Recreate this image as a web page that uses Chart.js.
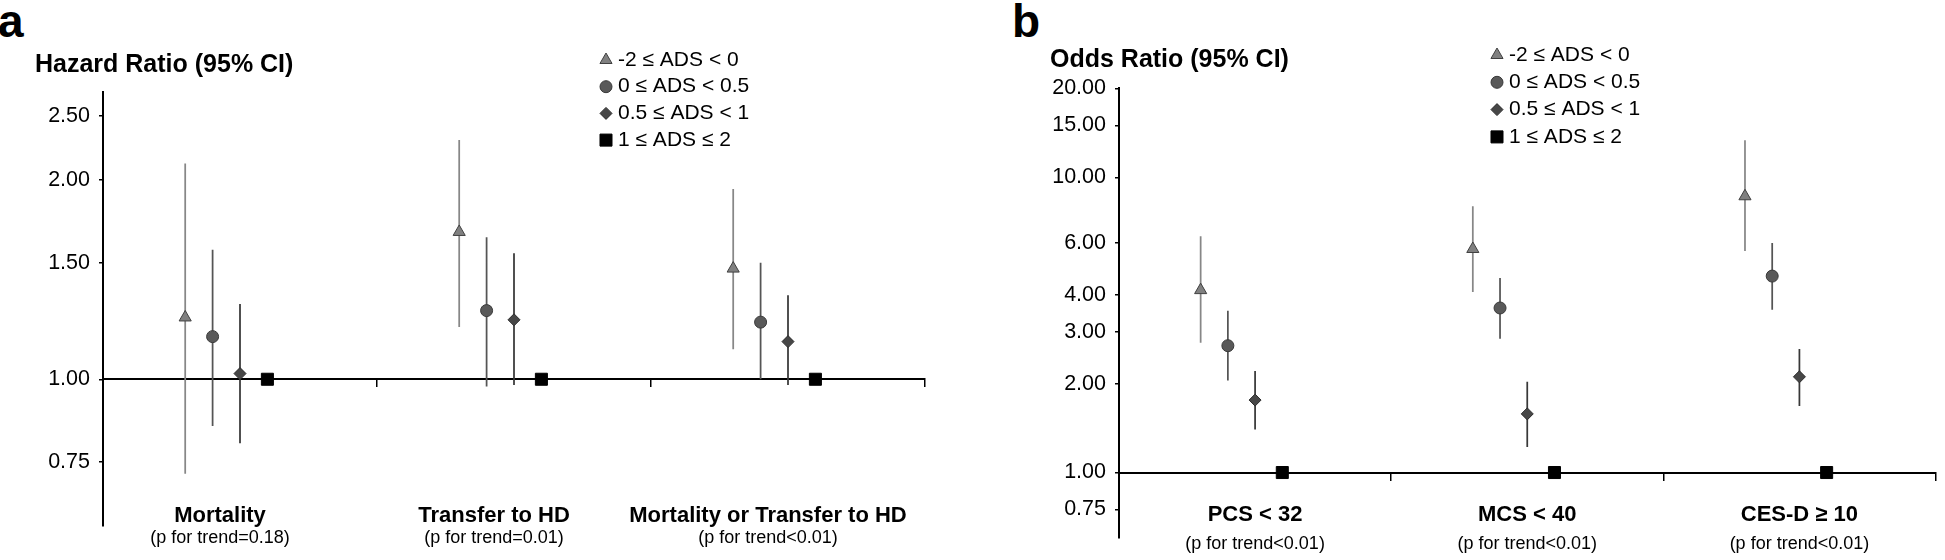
<!DOCTYPE html>
<html>
<head>
<meta charset="utf-8">
<script src="https://cdn.jsdelivr.net/npm/chart.js"></script>
<style>
  body { margin: 0; background: #fff; }
  #wrap { position: relative; width: 1945px; height: 560px; overflow: hidden; }
  .panel { position: absolute; top: 0; height: 560px; }
  .letter { position: absolute; top: -2px; font: bold 46px/46px "Liberation Sans", Arial, sans-serif; color: #000; }
</style>
</head>
<body>
<div id="wrap">
  <div class="letter" style="left:-2px">a</div>
  <div class="letter" style="left:1012px">b</div>
  <div class="panel" style="left:0;width:970px"><canvas id="hazardChart"></canvas></div>
  <div class="panel" style="left:1015px;width:930px"><canvas id="oddsChart"></canvas></div>
</div>
<script>
// ADS groups (legend)
var groups = ['-2 ≤ ADS < 0', '0 ≤ ADS < 0.5', '0.5 ≤ ADS < 1', '1 ≤ ADS ≤ 2'];

// Panel a - hazard ratios
var outcomesA = ['Mortality', 'Transfer to HD', 'Mortality or Transfer to HD'];
var trendA = ['(p for trend=0.18)', '(p for trend=0.01)', '(p for trend<0.01)'];
var ticksA = [0.75, 1, 1.5, 2, 2.5];
var hrEst = [[1.24, 1.67, 1.47], [1.16, 1.27, 1.22], [1.02, 1.23, 1.14], [1, 1, 1]];
var hrLow = [[0.72, 1.20, 1.11], [0.85, 0.975, 1.0], [0.80, 0.98, 0.98], null];
var hrHigh = [[2.12, 2.30, 1.94], [1.57, 1.64, 1.50], [1.30, 1.55, 1.34], null];

// Panel b - odds ratios
var outcomesB = ['PCS < 32', 'MCS < 40', 'CES-D ≥ 10'];
var trendB = ['(p for trend<0.01)', '(p for trend<0.01)', '(p for trend<0.01)'];
var ticksB = [0.75, 1, 2, 3, 4, 6, 10, 15, 20];
var orEst = [[4.15, 5.72, 8.63], [2.69, 3.61, 4.63], [1.76, 1.58, 2.11], [1, 1, 1]];
var orLow = [[2.75, 4.09, 5.63], [2.05, 2.84, 3.56], [1.40, 1.22, 1.68], null];
var orHigh = [[6.32, 7.99, 13.35], [3.53, 4.56, 5.99], [2.21, 2.03, 2.62], null];

var fontFamily = '"Liberation Sans", Arial, Helvetica, sans-serif';
Chart.defaults.font.family = fontFamily;
Chart.defaults.color = '#000';

// marker look per group, and where each group sits inside its category
var markerStyles = [
  { pointStyle: 'triangle', radius: 7, fill: '#808080', border: '#404040', ci: '#878787' },
  { pointStyle: 'circle', radius: 6, fill: '#595959', border: '#383838', ci: '#555555' },
  { pointStyle: 'rectRot', radius: 6, fill: '#474747', border: '#2b2b2b', ci: '#383838' },
  { pointStyle: 'rect', radius: 8.5, fill: '#000000', border: '#000000', ci: null }
];
var groupShift = [-0.2, -0.1, 0, 0.1];

function buildDatasets(est, low, high) {
  var sets = [];
  // confidence intervals as broken line segments
  low.forEach(function (lo, s) {
    if (!lo) return;
    var pts = [];
    lo.forEach(function (v, i) {
      var x = i + 0.5 + groupShift[s];
      pts.push({ x: x, y: v }, { x: x, y: high[s][i] }, { x: x, y: null });
    });
    sets.push({
      type: 'line', data: pts, xAxisID: 'x', yAxisID: 'y',
      borderColor: markerStyles[s].ci, borderWidth: 1.75,
      pointRadius: 0, spanGaps: false, fill: false, order: 1
    });
  });
  est.forEach(function (vals, s) {
    var st = markerStyles[s];
    sets.push({
      type: 'scatter', label: groups[s], xAxisID: 'x', yAxisID: 'y',
      data: vals.map(function (v, i) { return { x: i + 0.5 + groupShift[s], y: v }; }),
      pointStyle: st.pointStyle, pointRadius: st.radius,
      backgroundColor: st.fill, pointBackgroundColor: st.fill,
      borderColor: st.border, pointBorderColor: st.border, pointBorderWidth: 1,
      order: 0
    });
  });
  return sets;
}

// legend drawn from the marker datasets, placed over the plot like the original
var legendMarks = {
  id: 'legendMarks',
  afterDraw: function (chart, args, opts) {
    var ctx = chart.ctx;
    ctx.save();
    ctx.font = '21px ' + fontFamily;
    ctx.textBaseline = 'middle';
    chart.data.datasets.filter(function (d) { return d.label; }).forEach(function (d, s) {
      var y = opts.y + s * opts.dy;
      ctx.fillStyle = d.backgroundColor;
      ctx.strokeStyle = d.borderColor;
      ctx.lineWidth = 1;
      Chart.helpers.drawPoint(ctx, { pointStyle: d.pointStyle, radius: d.pointRadius, rotation: 0, borderWidth: 1 }, opts.x, y);
      ctx.fillStyle = '#000';
      ctx.fillText(d.label, opts.textX, y);
    });
    ctx.restore();
  }
};

function labelAxis(names, yValue, font, pad, offset, weight) {
  return {
    type: 'linear', axis: 'x', min: 0, max: names.length, position: { y: yValue }, weight: weight,
    afterBuildTicks: function (s) { s.ticks = names.map(function (n, i) { return { value: i + 0.5 }; }); },
    ticks: {
      callback: function (v, i) { return names[i]; },
      autoSkip: false, maxRotation: 0, padding: pad, labelOffset: offset,
      font: font, color: '#000'
    },
    grid: { display: false, drawTicks: false },
    border: { display: false }
  };
}

function panelChart(id, p) {
  return new Chart(document.getElementById(id), {
    type: 'scatter',
    data: { datasets: buildDatasets(p.est, p.low, p.high) },
    options: {
      responsive: true,
      maintainAspectRatio: false,
      animation: false,
      layout: { padding: p.padding },
      plugins: {
        legend: { display: false },
        tooltip: { enabled: false },
        title: {
          display: true, text: p.title, align: 'start', color: '#000',
          font: { size: 25, weight: 'bold', lineHeight: 1 }, padding: p.titlePad
        },
        legendMarks: p.legend
      },
      scales: {
        x: {
          type: 'linear', axis: 'x', min: 0, max: p.outcomes.length, position: { y: 1 },
          afterBuildTicks: function (s) {
            s.ticks = p.outcomes.map(function (o, i) { return { value: i }; }).concat({ value: p.outcomes.length });
          },
          ticks: { display: false },
          grid: { drawOnChartArea: false, color: '#000', lineWidth: 1.5, tickLength: 7 },
          border: { color: '#000', width: 2 }
        },
        xName: labelAxis(p.outcomes, p.yMin, { size: 22, weight: 'bold', lineHeight: 1 }, p.namePad, p.labelOffset, 1),
        xTrend: labelAxis(p.trends, p.yMin, { size: 18, lineHeight: 1 }, p.trendPad, p.labelOffset, 2),
        y: {
          type: 'logarithmic', position: 'left', min: p.yMin, max: p.yMax,
          afterFit: function (s) { s.width = p.yWidth; },
          afterBuildTicks: function (s) { s.ticks = p.yTicks.map(function (v) { return { value: v }; }); },
          ticks: {
            callback: function (v) { return Number(v).toFixed(2); },
            font: { size: 21.5 }, color: '#000', padding: 9
          },
          grid: { drawOnChartArea: false, color: '#000', lineWidth: 1.5, tickLength: 4 },
          border: { color: '#000', width: 2 }
        }
      }
    },
    plugins: [legendMarks]
  });
}

var hazardChart = panelChart('hazardChart', {
  title: 'Hazard Ratio (95% CI)',
  outcomes: outcomesA, trends: trendA, yTicks: ticksA,
  est: hrEst, low: hrLow, high: hrHigh,
  yMin: Math.exp(-0.5), yMax: Math.exp(1),
  padding: { left: 35, right: 45, top: 0, bottom: 34 },
  titlePad: { top: 52.5, bottom: 14.5 },
  yWidth: 68, namePad: -18, trendPad: 6, labelOffset: -20,
  legend: { x: 606, textX: 618, y: 60, dy: 26.7 }
});

var oddsChart = panelChart('oddsChart', {
  title: 'Odds Ratio (95% CI)',
  outcomes: outcomesB, trends: trendB, yTicks: ticksB,
  est: orEst, low: orLow, high: orHigh,
  yMin: Math.exp(-0.5), yMax: Math.exp(3),
  padding: { left: 35, right: 3, top: 0, bottom: 22 },
  titlePad: { top: 47.5, bottom: 15.5 },
  yWidth: 69, namePad: -33, trendPad: -2, labelOffset: 0,
  legend: { x: 482, textX: 494, y: 55, dy: 27.3 }
});
</script>
</body>
</html>
